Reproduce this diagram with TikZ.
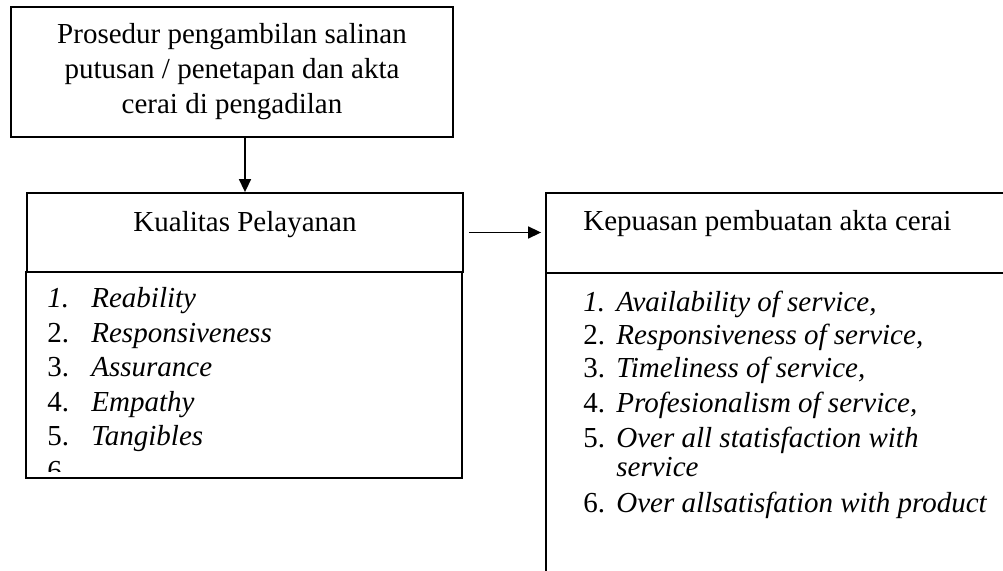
\documentclass[tikz,border=0pt]{standalone}
\usepackage{fontspec}
\setmainfont{Liberation Serif}
\usetikzlibrary{arrows.meta}
\newcommand\bodyfont{\fontsize{14.5}{17.5}\selectfont}
\tikzset{
  box/.style={draw, line width=0.9pt, inner sep=0pt},
  num/.style={anchor=base west, inner sep=0pt, font=\bodyfont},
  item/.style={anchor=base west, inner sep=0pt, font=\bodyfont\itshape},
  arrow/.style={line width=0.8pt, -{Triangle[length=6.5pt,width=6pt]}}
}
\begin{document}
\begin{tikzpicture}[x=0.5pt, y=-0.5pt, font=\bodyfont]
  \useasboundingbox (0,0) rectangle (1003,571);
  % top box
  \node[box, minimum width=221pt, minimum height=65pt, align=center] at (232,72) (prosedur)
    {Prosedur pengambilan salinan\\putusan / penetapan dan akta\\cerai di pengadilan};
  % left: kualitas pelayanan
  \node[box, minimum width=218pt, minimum height=39.5pt] at (245,232.5) (kualitas) {};
  \node[anchor=base, inner sep=0pt] at (245,232) (kualitasjudul) {Kualitas Pelayanan};
  \node[box, minimum width=218pt, minimum height=103pt] at (244,375) (kualitaslist) {};
  \foreach \n/\t/\y in {{\textit{1.}}/Reability/308, 2./Responsiveness/343, 3./Assurance/377,
                        4./Empathy/412, 5./Tangibles/446} {
    \node[num] at (47,\y) (kn\y) {\n};
    \node[item] at (91,\y) (kt\y) {\t};
  }
  \begin{scope}
    \clip (26,272) rectangle (462,472);
    \node[num] at (47,481) (kn6) {6.};
  \end{scope}
  % right: kepuasan
  \node[box, minimum width=232pt, minimum height=40pt] at (778,233) (kepuasan) {};
  \node[anchor=base west, inner sep=0pt] at (583,231) (kepuasanjudul) {Kepuasan pembuatan akta cerai};
  \node[box, minimum width=232pt, minimum height=154pt] at (778,427) (kepuasanlist) {};
  \foreach \n/\t/\y in {{\textit{1.}}/{Availability of service,}/312, 2./{Responsiveness of service,}/345,
                        3./{Timeliness of service,}/378, 4./{Profesionalism of service,}/413,
                        5./{Over all statisfaction with}/448, 6./{Over allsatisfation with product}/513} {
    \node[num] at (583,\y) (pn\y) {\n};
    \node[item] at (616,\y) (pt\y) {\t};
  }
  \node[item] at (616,477) (pt5b) {service};
  % connectors
  \path[arrow] (prosedur.south -| kualitas.north) edge (kualitas.north);
  \path[arrow] ([xshift=2.5pt]kualitas.east) edge ([xshift=-2pt]kepuasan.west |- kualitas.east);
\end{tikzpicture}
\end{document}
